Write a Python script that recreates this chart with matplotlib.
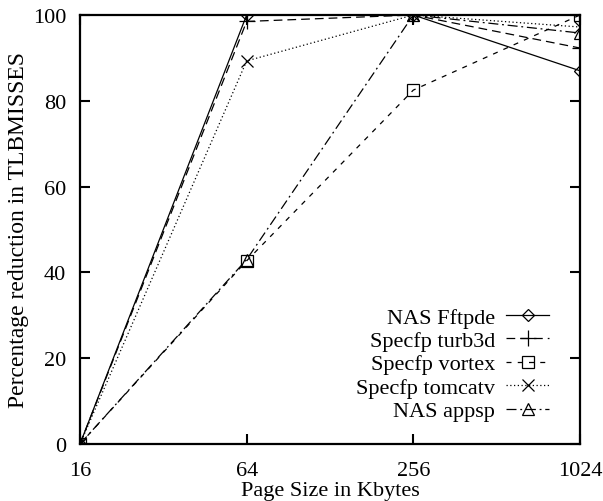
import matplotlib
matplotlib.use('Agg')
import matplotlib.pyplot as plt

# Page sizes (Kbytes) and reduction in TLB misses (%)
page_sizes = [16, 64, 256, 1024]
tick_labels = ['16', '64', '256', '1024']

nas_fftpde = [0, 100, 100, 87]
specfp_turb3d = [0, 98.5, 100, 92.3]
specfp_vortex = [0, 42.7, 82.5, 100]
specfp_tomcatv = [0, 89.3, 100, 97.2]
nas_appsp = [0, 43, 100, 95.8]

plt.rcParams['font.family'] = ['Liberation Serif', 'DejaVu Serif']
plt.rcParams['font.size'] = 16

fig = plt.figure(figsize=(6.03, 5.02), dpi=100)
ax = fig.add_axes([80/603, 1-445/502, 500/603, 429/502])

common = dict(color='black', lw=0.9, mfc='none', mec='black', mew=0.9)
ax.plot(page_sizes, nas_fftpde, ls='-', marker='D', ms=6.5,
        label='NAS Fftpde', **common)
ax.plot(page_sizes, specfp_turb3d, ls=(0, (7, 4)), marker='+', ms=11,
        label='Specfp turb3d', **common)
ax.plot(page_sizes, specfp_vortex, ls=(0, (4, 5)), marker='s', ms=8.5,
        label='Specfp vortex', **common)
ax.plot(page_sizes, specfp_tomcatv, ls=(0, (1, 2)), marker='x', ms=9,
        label='Specfp tomcatv', **common)
ax.plot(page_sizes, nas_appsp, ls=(0, (8, 3, 1.5, 3)), marker='^', ms=8.5,
        label='NAS appsp', **common)

ax.set_xscale('log', base=4)
ax.set_xlim(16, 1024)
ax.set_ylim(0, 100)
ax.set_xticks(page_sizes)
ax.set_xticklabels(tick_labels)
ax.minorticks_off()
ax.set_yticks([0, 20, 40, 60, 80, 100])

ax.tick_params(direction='in', length=7, width=1.5, top=True, right=True)
ax.tick_params(axis='x', pad=12)
ax.tick_params(axis='y', pad=10)
for s in ax.spines.values():
    s.set_linewidth(1.6)

ax.set_xlabel('Page Size in Kbytes', labelpad=1)
ax.set_ylabel('Percentage reduction in TLBMISSES', fontsize=17, labelpad=3)

leg = ax.legend(loc='lower right', markerfirst=False, frameon=False,
                handlelength=1.9, handletextpad=0.5, labelspacing=0.13,
                bbox_to_anchor=(0.955, 0.032), borderaxespad=0)

fig.savefig('out.png', dpi=100)
